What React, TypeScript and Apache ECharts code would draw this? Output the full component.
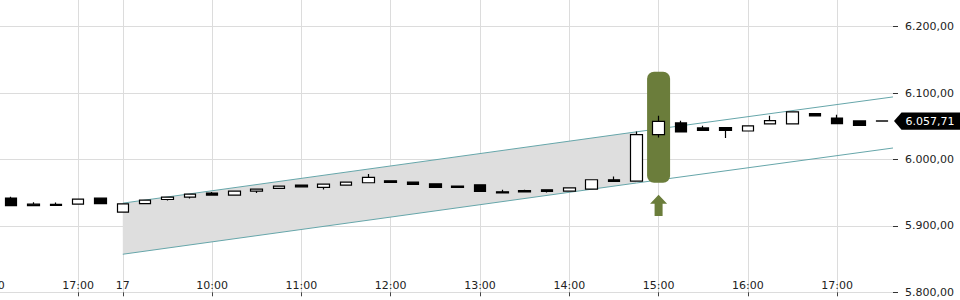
import React, { useEffect, useRef } from "react";
import * as echarts from "echarts";

// Time of each 15-minute candle (index = x position)
const times = [
  "16:15", "16:30", "16:45", "17:00", "17:15",
  "09:00", "09:15", "09:30", "09:45", "10:00", "10:15", "10:30", "10:45",
  "11:00", "11:15", "11:30", "11:45", "12:00", "12:15", "12:30", "12:45",
  "13:00", "13:15", "13:30", "13:45", "14:00", "14:15", "14:30", "14:45",
  "15:00", "15:15", "15:30", "15:45", "16:00", "16:15", "16:30", "16:45",
  "17:00", "17:15", "17:30",
];
const opens = [
  5941.8, 5932.7, 5932.5, 5932.7, 5941.8,
  5920.7, 5933.6, 5939.7, 5943.3, 5949.3, 5946.3, 5952.3, 5956.3,
  5961.4, 5957.8, 5961.4, 5964.9, 5967.9, 5965.9, 5963.3, 5960.0,
  5961.8, 5951.3, 5953.2, 5954.3, 5952.3, 5955.4, 5969.4, 5967.4,
  6037.3, 6054.9, 6047.4, 6047.8, 6042.8, 6053.4, 6053.4, 6068.9,
  6062.4, 6057.9, 6058.0,
];
const closes = [
  5930.6, 5930.6, 5930.8, 5940.3, 5933.6,
  5933.2, 5938.8, 5943.3, 5947.8, 5946.3, 5952.3, 5955.4, 5959.9,
  5958.8, 5962.9, 5965.9, 5972.9, 5965.6, 5962.3, 5957.8, 5957.8,
  5951.7, 5949.8, 5951.3, 5951.7, 5957.3, 5969.4, 5966.8, 6037.3,
  6057.3, 6041.3, 6043.7, 6043.7, 6050.4, 6058.4, 6071.5, 6065.5,
  6053.8, 6051.3, 6057.71,
];
const lows = [
  5930.6, 5930.6, 5930.8, 5932.7, 5933.6,
  5920.7, 5933.6, 5938.2, 5941.2, 5946.3, 5946.3, 5949.3, 5956.3,
  5958.8, 5954.8, 5961.4, 5964.9, 5965.6, 5962.3, 5957.8, 5957.8,
  5951.7, 5949.8, 5951.3, 5950.2, 5952.3, 5955.4, 5966.8, 5967.4,
  6033.2, 6041.3, 6043.7, 6032.3, 6042.8, 6053.4, 6053.4, 6065.5,
  6053.8, 6051.3, 6057.71,
];
const highs = [
  5943.7, 5935.7, 5935.2, 5940.3, 5941.8,
  5934.0, 5938.8, 5943.3, 5947.8, 5950.8, 5952.3, 5955.4, 5959.9,
  5961.4, 5962.9, 5965.9, 5978.0, 5967.9, 5965.9, 5963.3, 5960.0,
  5961.8, 5954.3, 5954.3, 5954.3, 5957.3, 5969.4, 5974.4, 6042.2,
  6065.9, 6058.4, 6050.8, 6047.8, 6050.4, 6065.9, 6071.5, 6068.9,
  6067.4, 6058.8, 6058.0,
];

// Trend channel: x positions (candle index) and upper / lower values
const channelX = [5, 28, 39.5];
const channelUpper = [5934.2, 6041.5, 6094.1];
const channelLower = [5857.3, 5964.5, 6017.2];

// x-axis tick positions and labels
const tickIdx = [-1, 3, 5, 9, 13, 17, 21, 25, 29, 33, 37];
const tickLabels = ["16:00", "17:00", "17", "10:00", "11:00", "12:00", "13:00", "14:00", "15:00", "16:00", "17:00"];

// y-axis
const yMin = 5800;
const yMax = 6240;
const yStep = 100;

// Signal highlight: candle index, low, high; arrow: index, bottom, tip
const signal = [29, 5965, 6132];
const signalArrow = [29, 5915, 5947];

const OLIVE = "#6b7d3b";
const TEAL = "#66a6aa";
const FONT = "DejaVu Sans";

function fmtDE(v: number): string {
  const neg = v < 0;
  const fixed = Math.abs(v).toFixed(2);
  const [intPart, dec] = fixed.split(".");
  const withDots = intPart.replace(/\B(?=(\d{3})+(?!\d))/g, ".");
  return (neg ? "-" : "") + withDots + "," + dec;
}

export default function App() {
  const ref = useRef<HTMLDivElement>(null);

  useEffect(() => {
    if (!ref.current) return;
    const chart = echarts.init(ref.current, null, { renderer: "svg" });
    const band = 893 / 40;

    const candleData = times.map((_, i) => [i, opens[i], closes[i], lows[i], highs[i]]);

    const option: any = {
      animation: false,
      textStyle: { fontFamily: FONT },
      grid: {
        left: -band,
        right: 67,
        top: 0,
        bottom: 7.7,
        containLabel: false,
        outerBoundsMode: "none",
      },
      xAxis: {
        type: "value",
        min: -1.5,
        max: 39.5,
        axisLine: { show: false, onZero: false },
        axisTick: {
          show: true,
          customValues: tickIdx,
          length: 4,
          lineStyle: { color: "#444", width: 1 },
        },
        axisLabel: {
          show: true,
          customValues: tickIdx,
          inside: true,
          margin: 1,
          color: "#222",
          fontSize: 11,
          fontFamily: FONT,
          hideOverlap: false,
          formatter: (v: number) => {
            const k = tickIdx.indexOf(Math.round(v));
            return k >= 0 ? tickLabels[k] : "";
          },
        },
        splitLine: { show: true, lineStyle: { color: "#dcdcdc", width: 1 } },
      },
      yAxis: {
        type: "value",
        position: "right",
        min: yMin,
        max: yMax,
        interval: yStep,
        axisLine: { show: false, onZero: false },
        axisTick: { show: true, length: 5, lineStyle: { color: "#333" } },
        axisLabel: {
          margin: 12,
          color: "#222",
          fontSize: 11,
          fontFamily: FONT,
          showMaxLabel: false,
          formatter: (v: number) => (Math.abs(v % yStep) < 1e-6 ? fmtDE(v) : ""),
        },
        splitLine: { show: true, showMaxLine: false, lineStyle: { color: "#dcdcdc", width: 1 } },
      },
      series: [
        {
          type: "custom",
          name: "channelFill",
          z: 1,
          silent: true,
          data: [[channelX[0], channelUpper[0]]],
          encode: { x: 0, y: 1 },
          renderItem: (params: any, api: any) => {
            const p1 = api.coord([channelX[0], channelUpper[0]]);
            const p2 = api.coord([channelX[1], channelUpper[1]]);
            const p3 = api.coord([channelX[1], channelLower[1]]);
            const p4 = api.coord([channelX[0], channelLower[0]]);
            return {
              type: "polygon",
              shape: { points: [p1, p2, p3, p4] },
              style: { fill: "#dedede" },
            };
          },
        },
        {
          type: "line",
          name: "upper",
          z: 2,
          silent: true,
          symbol: "none",
          lineStyle: { color: TEAL, width: 1 },
          data: channelX.map((x, i) => [x, channelUpper[i]]),
        },
        {
          type: "line",
          name: "lower",
          z: 2,
          silent: true,
          symbol: "none",
          lineStyle: { color: TEAL, width: 1 },
          data: channelX.map((x, i) => [x, channelLower[i]]),
        },
        {
          type: "custom",
          name: "signal",
          z: 3,
          silent: true,
          data: [signal],
          encode: { x: 0, y: [1, 2] },
          renderItem: (params: any, api: any) => {
            const top = api.coord([api.value(0), api.value(2)]);
            const bot = api.coord([api.value(0), api.value(1)]);
            const w = 23;
            return {
              type: "rect",
              shape: { x: top[0] - w / 2, y: top[1], width: w, height: bot[1] - top[1], r: 7 },
              style: { fill: OLIVE },
            };
          },
        },
        {
          type: "custom",
          name: "arrow",
          z: 3,
          silent: true,
          data: [signalArrow],
          encode: { x: 0, y: [1, 2] },
          renderItem: (params: any, api: any) => {
            const tip = api.coord([api.value(0), api.value(2)]);
            const bot = api.coord([api.value(0), api.value(1)]);
            const cx = tip[0];
            const hw = 8.5;
            const sw = 4;
            const hh = 9;
            return {
              type: "polygon",
              shape: {
                points: [
                  [cx, tip[1]],
                  [cx + hw, tip[1] + hh],
                  [cx + sw, tip[1] + hh],
                  [cx + sw, bot[1]],
                  [cx - sw, bot[1]],
                  [cx - sw, tip[1] + hh],
                  [cx - hw, tip[1] + hh],
                ],
              },
              style: { fill: OLIVE },
            };
          },
        },
        {
          type: "candlestick",
          name: "price",
          z: 4,
          barWidth: 12,
          itemStyle: {
            color: "#ffffff",
            color0: "#000000",
            borderColor: "#000000",
            borderColor0: "#000000",
            borderColorDoji: "#000000",
            borderWidth: 1.2,
          },
          data: candleData,
        },
        {
          type: "custom",
          name: "lastTag",
          z: 5,
          silent: true,
          data: [[times.length - 1, closes[closes.length - 1]]],
          encode: { x: 0, y: 1 },
          renderItem: (params: any, api: any) => {
            const pt = api.coord([api.value(0), api.value(1)]);
            const cs = params.coordSys;
            const x0 = cs.x + cs.width + 1;
            const y = pt[1];
            const h = 8.7;
            return {
              type: "group",
              children: [
                {
                  type: "polygon",
                  shape: {
                    points: [
                      [x0, y],
                      [x0 + 7.5, y - h],
                      [x0 + 80, y - h],
                      [x0 + 80, y + h],
                      [x0 + 7.5, y + h],
                    ],
                  },
                  style: { fill: "#000" },
                },
                {
                  type: "text",
                  x: x0 + 11.5,
                  y: y,
                  style: {
                    text: fmtDE(api.value(1)),
                    fill: "#fff",
                    font: `11px "${FONT}"`,
                    verticalAlign: "middle",
                    align: "left",
                  },
                },
              ],
            };
          },
        },
      ],
    };

    chart.setOption(option);
    return () => chart.dispose();
  }, []);

  return (
    <div
      ref={ref}
      style={{ position: "fixed", left: 0, top: 0, width: 960, height: 300, background: "#fff" }}
    />
  );
}
